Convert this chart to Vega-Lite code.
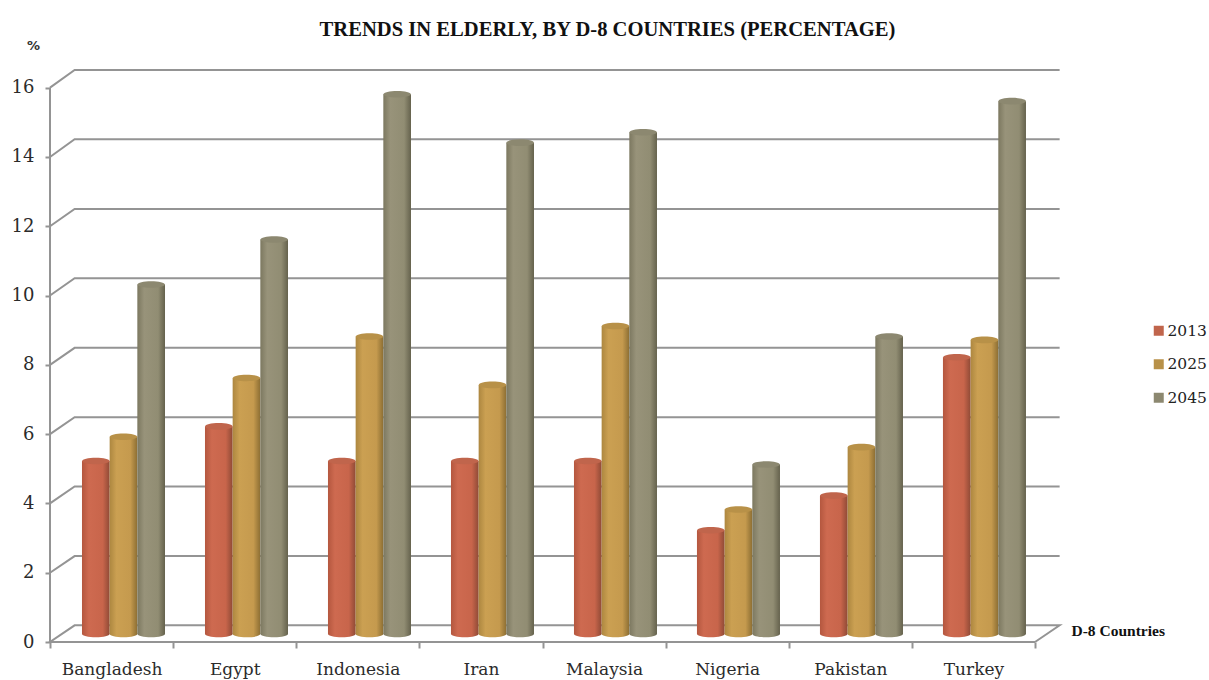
{
"$schema":"https://vega.github.io/schema/vega-lite/v6.json",
"width":985,"height":572,
"autosize":"none",
"padding":{"left":50,"top":70,"right":174,"bottom":38},
"background":"white",
"view":{"stroke":null},
"title":{"text":"TRENDS IN ELDERLY, BY D-8 COUNTRIES  (PERCENTAGE)","font":"Liberation Serif","fontSize":20.6,"fontWeight":"bold","color":"#111111","anchor":"middle","frame":"group","dx":65,"dy":3,"offset":1},
"datasets":{
"bars":[
{"country":"Bangladesh","year":"2013","value":5},{"country":"Bangladesh","year":"2025","value":5.7},{"country":"Bangladesh","year":"2045","value":10.1},
{"country":"Egypt","year":"2013","value":6},{"country":"Egypt","year":"2025","value":7.4},{"country":"Egypt","year":"2045","value":11.4},
{"country":"Indonesia","year":"2013","value":5},{"country":"Indonesia","year":"2025","value":8.6},{"country":"Indonesia","year":"2045","value":15.6},
{"country":"Iran","year":"2013","value":5},{"country":"Iran","year":"2025","value":7.2},{"country":"Iran","year":"2045","value":14.2},
{"country":"Malaysia","year":"2013","value":5},{"country":"Malaysia","year":"2025","value":8.9},{"country":"Malaysia","year":"2045","value":14.5},
{"country":"Nigeria","year":"2013","value":3},{"country":"Nigeria","year":"2025","value":3.6},{"country":"Nigeria","year":"2045","value":4.9},
{"country":"Pakistan","year":"2013","value":4},{"country":"Pakistan","year":"2025","value":5.4},{"country":"Pakistan","year":"2045","value":8.6},
{"country":"Turkey","year":"2013","value":8},{"country":"Turkey","year":"2025","value":8.5},{"country":"Turkey","year":"2045","value":15.4}
],
"walls":[
{"line":"axis","ord":1,"px":0,"py":0},{"line":"axis","ord":2,"px":0,"py":16},
{"line":"g0","ord":1,"px":8,"py":0},{"line":"g0","ord":2,"px":0,"py":0},{"line":"g0","ord":3,"px":0.2,"py":0.48},{"line":"g0","ord":4,"px":8.2,"py":0.48},{"line":"g0","ord":5,"px":8,"py":0},
{"line":"g2","ord":1,"px":0,"py":2},{"line":"g2","ord":2,"px":0.2,"py":2.48},{"line":"g2","ord":3,"px":8.2,"py":2.48},
{"line":"g4","ord":1,"px":0,"py":4},{"line":"g4","ord":2,"px":0.2,"py":4.49},{"line":"g4","ord":3,"px":8.2,"py":4.49},
{"line":"g6","ord":1,"px":0,"py":6},{"line":"g6","ord":2,"px":0.2,"py":6.49},{"line":"g6","ord":3,"px":8.2,"py":6.49},
{"line":"g8","ord":1,"px":0,"py":8},{"line":"g8","ord":2,"px":0.2,"py":8.49},{"line":"g8","ord":3,"px":8.2,"py":8.49},
{"line":"g10","ord":1,"px":0,"py":10},{"line":"g10","ord":2,"px":0.2,"py":10.5},{"line":"g10","ord":3,"px":8.2,"py":10.5},
{"line":"g12","ord":1,"px":0,"py":12},{"line":"g12","ord":2,"px":0.2,"py":12.5},{"line":"g12","ord":3,"px":8.2,"py":12.5},
{"line":"g14","ord":1,"px":0,"py":14},{"line":"g14","ord":2,"px":0.2,"py":14.51},{"line":"g14","ord":3,"px":8.2,"py":14.51},
{"line":"g16","ord":1,"px":0,"py":16},{"line":"g16","ord":2,"px":0.2,"py":16.51},{"line":"g16","ord":3,"px":8.2,"py":16.51}
]
},
"resolve":{"scale":{"x":"independent","y":"independent"},"axis":{"x":"independent","y":"independent"}},
"layer":[
{"data":{"name":"walls"},
 "mark":{"type":"line","color":"#949494","strokeWidth":2,"clip":false},
 "encoding":{
  "x":{"field":"px","type":"quantitative","scale":{"domain":[0,8],"nice":false,"zero":false},"axis":null},
  "y":{"field":"py","type":"quantitative","scale":{"domain":[0,16.51],"nice":false,"zero":false},"axis":null},
  "detail":{"field":"line"},
  "order":{"field":"ord"}
 }},
{"data":{"name":"bars"},
 "mark":{"type":"bar","opacity":0},
 "encoding":{
  "x":{"field":"country","type":"nominal","sort":null,"scale":{"paddingInner":0,"paddingOuter":0},
   "axis":{"title":"D-8 Countries","titleFont":"Liberation Serif","titleFontWeight":"bold","titleFontSize":15.5,"titleColor":"#111111","titleX":1021,"titleY":-12,"titleAlign":"left","titleBaseline":"middle",
    "labelFont":"DejaVu Serif","labelFontSize":17,"labelColor":"#2b2b2b","labelAngle":0,"labelPadding":13,"domain":false,"tickBand":"extent","tickColor":"#949494","tickWidth":2,"tickSize":6,"grid":false}},
  "y":{"field":"value","type":"quantitative","stack":null,"scale":{"domain":[0,16.51],"nice":false,"zero":false},
   "axis":{"values":[0,2,4,6,8,10,12,14,16],"title":"%","titleAngle":0,"titleFont":"DejaVu Sans","titleFontWeight":"bold","titleFontSize":13,"titleColor":"#333333","titleX":-17,"titleY":-25,"titleAlign":"center","titleBaseline":"middle",
    "labelFont":"DejaVu Serif","labelFontSize":18,"labelColor":"#2b2b2b","labelPadding":11,"domain":false,"grid":false,"tickColor":"#949494","tickWidth":2,"tickSize":5}}
 }},
{"data":{"name":"bars"},
 "encoding":{
  "x":{"field":"country","type":"nominal","sort":null,"scale":{"paddingInner":0.325,"paddingOuter":0.1667,"align":0.78},"axis":null},
  "xOffset":{"field":"year","type":"nominal","scale":{"domain":["2013","2025","2045"]}}
 },
 "layer":[
  {"transform":[{"filter":"datum.year==='2013'"}],
   "mark":{"type":"point","filled":true,"opacity":1,"size":756,"shape":"M-1,0A1,0.24 0 1,1 1,0A1,0.24 0 1,1 -1,0Z","fill":{"gradient":"linear","x1":0,"x2":1,"y1":0,"y2":0,"stops":[{"offset":0,"color":"#B4573F"},{"offset":0.25,"color":"#CE6A50"},{"offset":0.75,"color":"#C8654B"},{"offset":1,"color":"#8F4A36"}]}},
   "encoding":{"y":{"datum":0,"type":"quantitative","scale":{"domain":[-0.231,16.3],"nice":false,"zero":false},"axis":null}}},
  {"transform":[{"filter":"datum.year==='2013'"}],
   "mark":{"type":"bar","fill":{"gradient":"linear","x1":0,"x2":1,"y1":0,"y2":0,"stops":[{"offset":0,"color":"#B4573F"},{"offset":0.25,"color":"#CE6A50"},{"offset":0.75,"color":"#C8654B"},{"offset":1,"color":"#8F4A36"}]}},
   "encoding":{"y":{"field":"value","type":"quantitative","stack":null,"scale":{"domain":[-0.231,16.3],"nice":false,"zero":false},"axis":null},"y2":{"datum":0}}},
  {"transform":[{"filter":"datum.year==='2025'"}],
   "mark":{"type":"point","filled":true,"opacity":1,"size":756,"shape":"M-1,0A1,0.24 0 1,1 1,0A1,0.24 0 1,1 -1,0Z","fill":{"gradient":"linear","x1":0,"x2":1,"y1":0,"y2":0,"stops":[{"offset":0,"color":"#AD8740"},{"offset":0.25,"color":"#CBA052"},{"offset":0.75,"color":"#C59A4E"},{"offset":1,"color":"#8C6E33"}]}},
   "encoding":{"y":{"datum":0,"type":"quantitative","scale":{"domain":[-0.231,16.3],"nice":false,"zero":false},"axis":null}}},
  {"transform":[{"filter":"datum.year==='2025'"}],
   "mark":{"type":"bar","fill":{"gradient":"linear","x1":0,"x2":1,"y1":0,"y2":0,"stops":[{"offset":0,"color":"#AD8740"},{"offset":0.25,"color":"#CBA052"},{"offset":0.75,"color":"#C59A4E"},{"offset":1,"color":"#8C6E33"}]}},
   "encoding":{"y":{"field":"value","type":"quantitative","stack":null,"scale":{"domain":[-0.231,16.3],"nice":false,"zero":false},"axis":null},"y2":{"datum":0}}},
  {"transform":[{"filter":"datum.year==='2045'"}],
   "mark":{"type":"point","filled":true,"opacity":1,"size":756,"shape":"M-1,0A1,0.24 0 1,1 1,0A1,0.24 0 1,1 -1,0Z","fill":{"gradient":"linear","x1":0,"x2":1,"y1":0,"y2":0,"stops":[{"offset":0,"color":"#7C7860"},{"offset":0.25,"color":"#98937A"},{"offset":0.75,"color":"#918D73"},{"offset":1,"color":"#65624D"}]}},
   "encoding":{"y":{"datum":0,"type":"quantitative","scale":{"domain":[-0.231,16.3],"nice":false,"zero":false},"axis":null}}},
  {"transform":[{"filter":"datum.year==='2045'"}],
   "mark":{"type":"bar","fill":{"gradient":"linear","x1":0,"x2":1,"y1":0,"y2":0,"stops":[{"offset":0,"color":"#7C7860"},{"offset":0.25,"color":"#98937A"},{"offset":0.75,"color":"#918D73"},{"offset":1,"color":"#65624D"}]}},
   "encoding":{"y":{"field":"value","type":"quantitative","stack":null,"scale":{"domain":[-0.231,16.3],"nice":false,"zero":false},"axis":null},"y2":{"datum":0}}},
  {"mark":{"type":"point","filled":true,"opacity":1,"size":756,"shape":"M-1,0A1,0.24 0 1,1 1,0A1,0.24 0 1,1 -1,0Z"},
   "encoding":{
    "y":{"field":"value","type":"quantitative","scale":{"domain":[-0.231,16.3],"nice":false,"zero":false},"axis":null},
    "color":{"field":"year","type":"nominal","scale":{"domain":["2013","2025","2045"],"range":["#C0654C","#B89148","#8C8870"]},
     "legend":{"title":null,"orient":"none","legendX":1101,"legendY":253,"symbolType":"square","symbolSize":100,"symbolOpacity":1,"rowPadding":16.5,"labelFont":"DejaVu Serif","labelFontSize":15.5,"labelColor":"#222222","labelOffset":1}}
   }}
 ]}
]
}
